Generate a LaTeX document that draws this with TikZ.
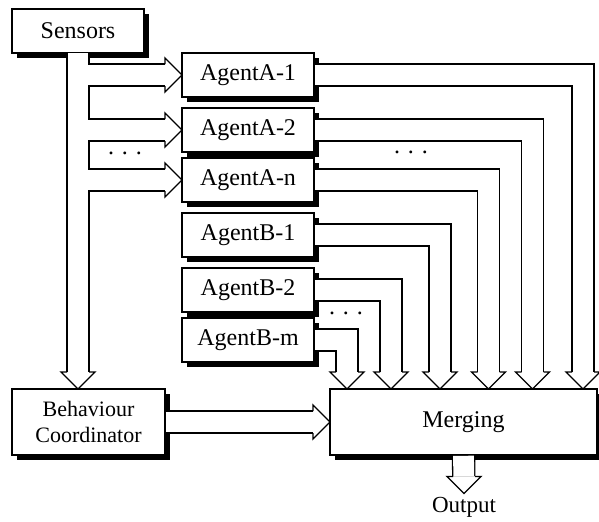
\documentclass[tikz,border=0pt]{standalone}
\usepackage{fontspec}
\setmainfont{Liberation Serif}
\usetikzlibrary{calc,positioning,shadows}

\begin{document}
\begin{tikzpicture}[x=0.5pt, y=-0.5pt, font=\fontsize{12}{14}\selectfont,
        box/.style={draw, line width=0.7pt, fill=white, outer sep=0pt, inner sep=0pt,
            drop shadow={shadow xshift=2.6pt, shadow yshift=-2.6pt, fill=black, opacity=1}},
        agent/.style={box, minimum width=66pt, minimum height=22pt},
        pipe/.style={double=white, double distance=10.4pt, line width=0.65pt, line join=miter},
        hollow/.pic={
            \fill[white] (-8.5pt,-8.5pt) -- (0,0) -- (-8.5pt,8.5pt) -- cycle;
            \draw[line width=0.65pt, line join=miter] (-8.5pt,-5.5pt) -- (-8.5pt,-8.5pt)
                -- (0,0) -- (-8.5pt,8.5pt) -- (-8.5pt,5.5pt);
        }]

        \useasboundingbox (0,0) rectangle (599,521);

        \node[agent] (Sensors) at (78,31) {Sensors};
        \node[agent] (A1) at (248,75) {AgentA-1};
        \node[agent, below=5.5pt of A1] (A2) {AgentA-2};
        \node[agent, below=3pt of A2] (An) {AgentA-n};
        \node[agent, below=5.5pt of An] (B1) {AgentB-1};
        \node[agent, below=5.5pt of B1] (B2) {AgentB-2};
        \node[agent, below=3pt of B2] (Bm) {AgentB-m};
        \node[box, minimum width=76.5pt, minimum height=33pt, align=center,
            font=\fontsize{11}{13}\selectfont] (BC) at (88.5,422) {Behaviour\\Coordinator};
        \node[box, minimum width=133.5pt, minimum height=33pt] (Merging) at (463.5,422) {Merging};
        \node[font=\fontsize{11.5}{13}\selectfont, inner sep=1.5pt] (Output) at (464,507) {Output};

        \node (dotsL) at (125,153) {. . .};
        \node (dotsR) at (411,152) {. . .};
        \node (dotsB) at (346,313) {. . .};

        \draw[pipe, shorten <=0.4pt] (Sensors.south) -- ($(Sensors.south |- BC.north)+(0,-17)$)
            (Sensors.south |- A1.west) -- ($(A1.west)+(-17,0)$)
            (Sensors.south |- A2.west) -- ($(A2.west)+(-17,0)$)
            (Sensors.south |- An.west) -- ($(An.west)+(-17,0)$);
        \pic at (A1.west) {hollow};
        \pic at (A2.west) {hollow};
        \pic at (An.west) {hollow};
        \pic[rotate=-90] at (Sensors.south |- BC.north) {hollow};

        \path (Merging.north west) ++(17,0) coordinate (m1) ++(44,0) coordinate (m2)
            ++(49,0) coordinate (m3) ++(48.5,0) coordinate (m4) ++(44,0) coordinate (m5)
            ++(50.5,0) coordinate (m6);
        \foreach \a/\m in {Bm/m1, B2/m2, B1/m3, An/m4, A2/m5, A1/m6} {
            \draw[pipe, shorten <=0.4pt, shorten >=8.5pt] (\a.east) -| (\m);
            \pic[rotate=-90] at (\m) {hollow};
        }

        \draw[pipe, shorten <=0.4pt, shorten >=8.5pt] (BC.east) -- (Merging.west);
        \pic at (Merging.west) {hollow};
        \draw[pipe, shorten <=0.4pt, shorten >=8.5pt] (Merging.south) -- (Output.north);
        \pic[rotate=-90] at (Output.north) {hollow};

    \end{tikzpicture}
\end{document}
